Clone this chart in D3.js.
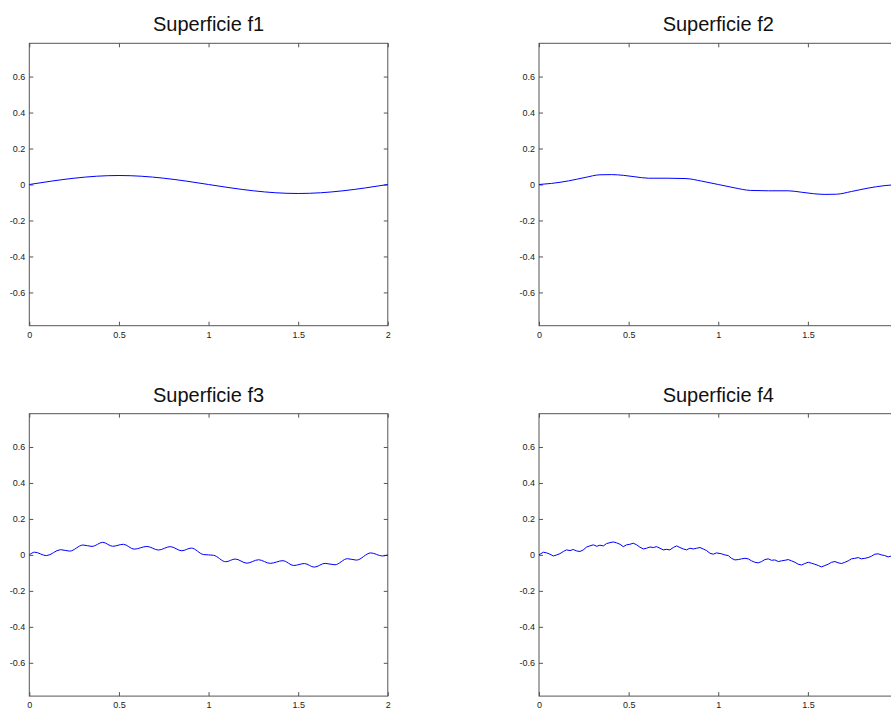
<!DOCTYPE html>
<meta charset="utf-8">
<script src="https://d3js.org/d3.v7.min.js"></script>
<style>
* { margin: 0; padding: 0; }
body { background: #fff; }
svg { display: block; font-family: "Liberation Sans", Arial, Helvetica, sans-serif; }
.frame { fill: none; stroke: #555; stroke-width: 1; }
.tick line { stroke: #555; }
.tick text { fill: #222; font-size: 9px; }
.title { font-size: 20px; fill: #111; text-anchor: middle; }
.curve { fill: none; stroke: #0000ff; stroke-width: 1; }
</style>
<svg width="891" height="711"></svg>
<script>
// tick labels
const xTicks = [0, 0.5, 1, 1.5, 2];
const yTicks = [-0.6, -0.4, -0.2, 0, 0.2, 0.4, 0.6];
const titles = ["Superficie f1", "Superficie f2", "Superficie f3", "Superficie f4"];

// values
const f1X = [0, 0.125, 0.25, 0.375, 0.5, 0.625, 0.75, 0.875, 1, 1.125, 1.25, 1.375, 1.5, 1.625, 1.75, 1.875, 2];
const f1Y = [0, 0.019, 0.035, 0.046, 0.05, 0.046, 0.035, 0.019, 0, -0.019, -0.035, -0.046, -0.05, -0.046, -0.035, -0.019, 0];

const f2X = [0, 0.07, 0.164, 0.257, 0.34, 0.405, 0.47, 0.535, 0.61, 0.72, 0.82, 0.907, 1, 1.093, 1.18, 1.28, 1.39, 1.465, 1.53, 1.595, 1.66, 1.743, 1.836, 1.93, 2];
const f2Y = [0, 0.006, 0.02, 0.039, 0.054, 0.055, 0.051, 0.043, 0.035, 0.035, 0.033, 0.019, 0, -0.019, -0.033, -0.035, -0.035, -0.043, -0.051, -0.055, -0.054, -0.039, -0.02, -0.006, 0];

const f3X = [0, 0.03, 0.095, 0.175, 0.225, 0.3, 0.35, 0.41, 0.465, 0.525, 0.585, 0.656, 0.721, 0.786, 0.851, 0.904, 0.972, 1.028, 1.096, 1.149, 1.214, 1.279, 1.344, 1.415, 1.475, 1.535, 1.59, 1.65, 1.705, 1.775, 1.825, 1.905, 1.97, 2];
const f3Y = [0, 0.015, -0.004, 0.029, 0.021, 0.055, 0.047, 0.07, 0.048, 0.059, 0.032, 0.047, 0.027, 0.046, 0.023, 0.038, 0.002, -0.002, -0.038, -0.023, -0.046, -0.027, -0.047, -0.032, -0.059, -0.048, -0.068, -0.047, -0.055, -0.021, -0.029, 0.011, -0.006, 0];

const f4X = [0, 0.024, 0.043, 0.061, 0.080, 0.099, 0.117, 0.136, 0.154, 0.173,
  0.191, 0.210, 0.229, 0.247, 0.266, 0.284, 0.303, 0.322, 0.340, 0.359,
  0.377, 0.396, 0.414, 0.433, 0.452, 0.470, 0.489, 0.507, 0.526, 0.545,
  0.563, 0.582, 0.600, 0.619, 0.638, 0.656, 0.675, 0.693, 0.712, 0.730,
  0.749, 0.768, 0.786, 0.805, 0.823, 0.842, 0.861, 0.879, 0.898, 0.916,
  0.935, 0.954, 0.972, 0.991,
  1.019, 1.037, 1.056, 1.074, 1.093, 1.112,
  1.130, 1.149, 1.167, 1.186, 1.204, 1.223, 1.242, 1.260, 1.279, 1.297,
  1.316, 1.335, 1.353, 1.372, 1.390, 1.409, 1.428, 1.446, 1.465, 1.483,
  1.502, 1.520, 1.539, 1.558, 1.576, 1.595, 1.613, 1.632, 1.651, 1.669,
  1.688, 1.706, 1.725, 1.743, 1.762, 1.781, 1.799, 1.818, 1.836, 1.855,
  1.874, 1.892, 1.911, 1.929, 1.948, 1.963, 2];
const f4Y = [0, 0.015, 0.011, 0.004, -0.006, 0.000, 0.007, 0.019, 0.028, 0.024,
  0.030, 0.022, 0.019, 0.028, 0.044, 0.050, 0.056, 0.048, 0.054, 0.050,
  0.063, 0.068, 0.072, 0.067, 0.059, 0.046, 0.056, 0.059, 0.065, 0.056,
  0.043, 0.033, 0.037, 0.044, 0.041, 0.046, 0.037, 0.028, 0.031, 0.028,
  0.041, 0.050, 0.041, 0.033, 0.028, 0.037, 0.033, 0.037, 0.041, 0.033,
  0.024, 0.009, 0.004, 0.011,
  0.006, 0.000, -0.004, -0.019, -0.028, -0.026,
  -0.022, -0.019, -0.022, -0.033, -0.041, -0.044, -0.037, -0.026, -0.022, -0.030,
  -0.028, -0.037, -0.033, -0.030, -0.026, -0.033, -0.041, -0.052, -0.056, -0.048,
  -0.041, -0.046, -0.052, -0.059, -0.067, -0.059, -0.052, -0.041, -0.037, -0.044,
  -0.048, -0.041, -0.033, -0.022, -0.019, -0.015, -0.022, -0.019, -0.015, -0.007,
  0.004, 0.006, 0.000, -0.004, -0.011, -0.007, 0];

const panels = [
  { title: titles[0], xs: f1X, ys: f1Y, curve: d3.curveNatural, left: 29.3, top: 43.3 },
  { title: titles[1], xs: f2X, ys: f2Y, curve: d3.curveMonotoneX, left: 539, top: 43.3 },
  { title: titles[2], xs: f3X, ys: f3Y, curve: d3.curveMonotoneX, left: 29.3, top: 413.7 },
  { title: titles[3], xs: f4X, ys: f4Y, curve: d3.curveLinear, left: 539, top: 413.7 }
];

const W = 358.5, H = 282.4;
const pageW = 891;
const svg = d3.select("svg");
const fmt = d => String(+d.toFixed(1));

panels.forEach(p => {
  const g = svg.append("g").attr("transform", `translate(${p.left},${p.top})`);
  const x = d3.scaleLinear().domain([0, 2]).range([0, W]);
  const y = d3.scaleLinear().domain([-0.785, 0.785]).range([H, 0]);

  // the right-hand panels run past the page edge, like in the reference
  const shownX = xTicks.filter(t => p.left + x(t) + 6 < pageW);

  // ticks on all four sides, pointing inward
  g.append("g").attr("transform", `translate(0,${H})`)
    .call(d3.axisBottom(x).tickValues(shownX).tickFormat(fmt).tickSizeInner(-4).tickSizeOuter(0).tickPadding(6));
  g.append("g")
    .call(d3.axisTop(x).tickValues(xTicks).tickFormat("").tickSizeInner(-4).tickSizeOuter(0));
  g.append("g")
    .call(d3.axisLeft(y).tickValues(yTicks).tickFormat(fmt).tickSizeInner(-4).tickSizeOuter(0).tickPadding(4));
  g.append("g").attr("transform", `translate(${W},0)`)
    .call(d3.axisRight(y).tickValues(yTicks).tickFormat("").tickSizeInner(-4).tickSizeOuter(0));
  g.selectAll(".domain").remove();
  g.selectAll(".tick text").attr("font-family", null).attr("font-size", null);

  g.append("rect").attr("class", "frame").attr("width", W).attr("height", H);

  const pts = d3.zip(p.xs, p.ys);
  g.append("path").datum(pts).attr("class", "curve")
    .attr("d", d3.line().x(d => x(d[0])).y(d => y(d[1])).curve(p.curve));

  svg.append("text").attr("class", "title")
    .attr("x", p.left + W / 2).attr("y", p.top - 12)
    .text(p.title);
});
</script>
